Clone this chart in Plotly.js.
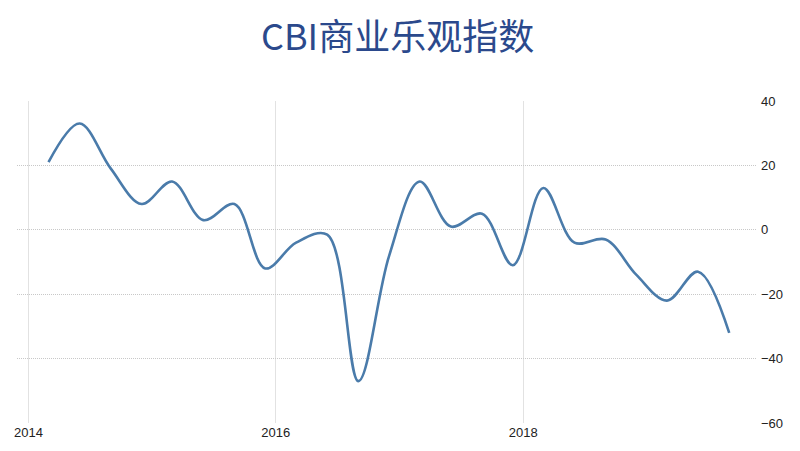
<!DOCTYPE html>
<html>
<head>
<meta charset="utf-8">
<script src="https://cdn.plot.ly/plotly-3.0.1.min.js"></script>
<style>html,body{margin:0;padding:0;background:#fff;}#chart{width:800px;height:451px;}</style>
</head>
<body>
<div id="chart"></div>
<script>
const dates = ["2014-03-01","2014-06-01","2014-09-01","2014-12-01",
  "2015-03-01","2015-06-01","2015-09-01","2015-12-01",
  "2016-03-01","2016-06-01","2016-09-01","2016-12-01",
  "2017-03-01","2017-06-01","2017-09-01","2017-12-01",
  "2018-03-01","2018-06-01","2018-09-01","2018-12-01",
  "2019-03-01","2019-06-01","2019-09-01"];
const values = [21, 33, 19, 8,
  15, 3, 8, -12,
  -4, -1.5, -47, -8,
  15, 1, 5, -11,
  13, -4, -3, -14,
  -22, -13, -32];
const yTicks = [-60, -40, -20, 0, 20, 40];
const xTicks = ["2014-01-01", "2016-01-01", "2018-01-01"];
const xTickText = ["2014", "2016", "2018"];
const titleText = "CBI商业乐观指数";

Plotly.newPlot("chart", [{
  x: dates, y: values, type: "scatter", mode: "lines",
  line: {color: "#4A7BAA", width: 2.6, shape: "spline", smoothing: 1},
  hoverinfo: "skip"
}], {
  width: 800, height: 451,
  margin: {l: 17, r: 43, t: 101, b: 28},
  paper_bgcolor: "#fff", plot_bgcolor: "#fff",
  showlegend: false,
  title: {text: titleText, x: 0.497, xanchor: "center", y: 0.918, yanchor: "middle",
    font: {family: "Noto Sans CJK SC, sans-serif", size: 36, color: "#2B498C"}},
  xaxis: {type: "date", range: ["2013-11-28", "2019-11-22"],
    tickvals: xTicks, ticktext: xTickText,
    showgrid: true, gridcolor: "#e2e2e2", gridwidth: 1,
    zeroline: false, showline: false, ticks: "",
    tickfont: {family: "Liberation Sans, Arial, sans-serif", size: 13, color: "#222"}},
  yaxis: {range: [-60, 40], side: "right", tickvals: yTicks,
    showgrid: true, gridcolor: "#c8c8c8", griddash: "1px,1px", gridwidth: 1,
    zeroline: false, showline: false, ticks: "", ticklabelstandoff: 3,
    tickfont: {family: "Liberation Sans, Arial, sans-serif", size: 13, color: "#222"}}
}, {staticPlot: true});
</script>
</body>
</html>
